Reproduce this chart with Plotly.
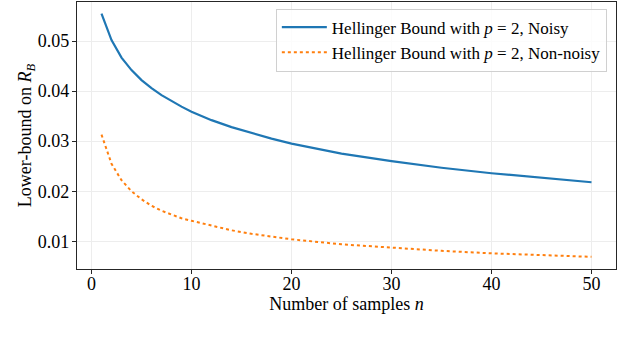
import plotly.graph_objects as go


# Values
N_SAMPLES = [1, 2, 3, 4, 5, 6, 7, 8, 9, 10, 12, 14, 16, 18, 20, 25, 30, 35, 40, 45, 50]
NOISY = [0.0555, 0.0502, 0.0467, 0.0442, 0.0422, 0.0406, 0.0392, 0.0380, 0.0369, 0.0359,
         0.0342, 0.0328, 0.0316, 0.0305, 0.0295, 0.0275, 0.0260, 0.0247, 0.0236, 0.0227,
         0.0218]
NON_NOISY = [0.0313, 0.0255, 0.0222, 0.0200, 0.0184, 0.0171, 0.0161, 0.0153, 0.0146, 0.0141,
             0.0131, 0.0122, 0.0115, 0.0109, 0.0104, 0.0094, 0.0087, 0.0081, 0.0076, 0.0072,
             0.0069]
X_TICKS = [0, 10, 20, 30, 40, 50]
Y_TICKS = [0.01, 0.02, 0.03, 0.04, 0.05]

FONT = "Times New Roman, Liberation Serif, DejaVu Serif, serif"
AXIS_COLOR = "#262626"
GRID_COLOR = "#ededed"

fig = go.Figure()

fig.add_trace(go.Scatter(
    x=N_SAMPLES, y=NOISY, mode="lines",
    name="Hellinger Bound with <i>p</i> = 2, Noisy",
    line=dict(color="#1f77b4", width=2.2),
))
fig.add_trace(go.Scatter(
    x=N_SAMPLES, y=NON_NOISY, mode="lines",
    name="Hellinger Bound with <i>p</i> = 2, Non-noisy",
    line=dict(color="#ff7f0e", width=2, dash="dot"),
))

axis_style = dict(
    showline=True, mirror=True, linecolor=AXIS_COLOR, linewidth=1.2,
    ticks="outside", ticklen=4, tickwidth=1, tickcolor=AXIS_COLOR,
    showgrid=True, gridcolor=GRID_COLOR, gridwidth=1,
    zeroline=False, automargin=False,
    tickfont=dict(family=FONT, size=18, color="black"),
)

fig.update_xaxes(
    range=[-1.45, 52.45], tickvals=X_TICKS, ticklabelstandoff=-6,
    title=dict(text="Number of samples <i>n</i>", font=dict(family=FONT, size=18, color="black"),
               standoff=0),
    **axis_style,
)
fig.update_yaxes(
    range=[0.00447, 0.0578], tickvals=Y_TICKS, tickformat=".2f", ticklabelstandoff=-1,
    title=dict(text="Lower-bound on <i>R</i><sub><i>B</i></sub>",
               font=dict(family=FONT, size=18, color="black"), standoff=0),
    **axis_style,
)

fig.update_layout(
    width=640, height=338, autosize=False,
    margin=dict(l=77, r=24, t=2, b=69, pad=0),
    paper_bgcolor="white", plot_bgcolor="white",
    font=dict(family=FONT, size=18, color="black"),
    legend=dict(
        x=0.983, y=0.975, xanchor="right", yanchor="top",
        bgcolor="rgba(255,255,255,0.8)", bordercolor="#d0d0d0", borderwidth=1,
        font=dict(family=FONT, size=17, color="black"),
        tracegroupgap=0, itemwidth=45,
    ),
    showlegend=True,
)

# the page body has a default 8px margin; drop it so the figure sits at the window corner
fig.write_html(
    "out.html",
    config={"displayModeBar": False},
    post_script="document.body.style.margin='0';",
)
